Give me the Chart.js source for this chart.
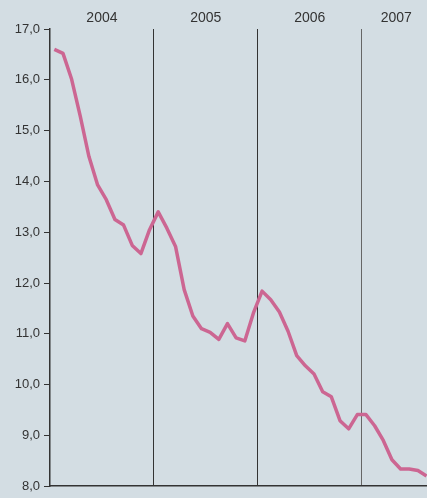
<!DOCTYPE html>
<html>
<head>
<meta charset="utf-8">
<script src="https://cdn.jsdelivr.net/npm/chart.js"></script>
<style>
  html, body { margin: 0; padding: 0; background: #d3dde3; }
  #wrap { width: 427px; height: 498px; }
</style>
</head>
<body>
<div id="wrap"><canvas id="c"></canvas></div>
<script>
// monthly values, Jan 2004 .. Aug 2007
const values = [
  16.60, 16.52, 16.01, 15.28, 14.49, 13.93, 13.64, 13.25, 13.14, 12.74, 12.58, 13.05,
  13.40, 13.08, 12.72, 11.87, 11.35, 11.10, 11.03, 10.89, 11.20, 10.92, 10.86, 11.41,
  11.84, 11.67, 11.43, 11.05, 10.57, 10.37, 10.21, 9.86, 9.76, 9.29, 9.13, 9.41,
  9.41, 9.19, 8.90, 8.52, 8.34, 8.34, 8.31, 8.20
];
const years = ['2004', '2005', '2006', '2007'];
const yearLabelPos = [5.5, 17.5, 29.5, 39.5];
const yearBreaks = [11.5, 23.5, 35.5];

const points = values.map((v, i) => ({ x: i, y: v }));

const bgPlugin = {
  id: 'bg',
  beforeDraw(chart) {
    const ctx = chart.ctx;
    ctx.save();
    ctx.fillStyle = '#d3dde3';
    ctx.fillRect(0, 0, chart.width, chart.height);
    ctx.restore();
  }
};

new Chart(document.getElementById('c'), {
  type: 'line',
  data: {
    datasets: [{
      data: points,
      borderColor: '#cc6692',
      borderWidth: 3.5,
      borderJoinStyle: 'round',
      pointRadius: 0,
      tension: 0,
      fill: false
    }]
  },
  options: {
    responsive: true,
    maintainAspectRatio: false,
    animation: false,
    layout: { padding: { top: 0, right: 0, bottom: 11, left: 0 } },
    plugins: { legend: { display: false }, tooltip: { enabled: false } },
    scales: {
      x: {
        type: 'linear',
        position: 'bottom',
        min: -0.5,
        max: 43.05,
        afterBuildTicks: s => { s.ticks = yearBreaks.map(v => ({ value: v })); },
        afterFit: s => { s.height = 0; },
        ticks: { display: false },
        grid: {
          drawTicks: false,
          color: ctx => (ctx.index === 2 ? '#666' : '#333'),
          lineWidth: 1
        },
        border: { display: true, color: '#333', width: 1.5 }
      },
      top: {
        type: 'linear',
        position: 'top',
        min: -0.5,
        max: 43.05,
        afterBuildTicks: s => { s.ticks = yearLabelPos.map(v => ({ value: v })); },
        afterFit: s => { s.height = 29; },
        ticks: {
          autoSkip: false,
          maxRotation: 0,
          padding: 2,
          color: '#333',
          font: { family: 'Liberation Sans', size: 14 },
          callback: (v, i) => years[i]
        },
        grid: { display: false, drawTicks: false },
        border: { display: false }
      },
      y: {
        min: 8,
        max: 17,
        afterFit: s => { s.width = 50; },
        ticks: {
          stepSize: 1,
          padding: 4,
          color: '#333',
          font: { family: 'Liberation Sans', size: 13 },
          callback: v => v.toFixed(1).replace('.', ',')
        },
        grid: { drawOnChartArea: false, drawTicks: true, tickLength: 6, color: '#333' },
        border: { display: true, color: '#333', width: 1.5 }
      }
    }
  },
  plugins: [bgPlugin]
});
</script>
</body>
</html>
